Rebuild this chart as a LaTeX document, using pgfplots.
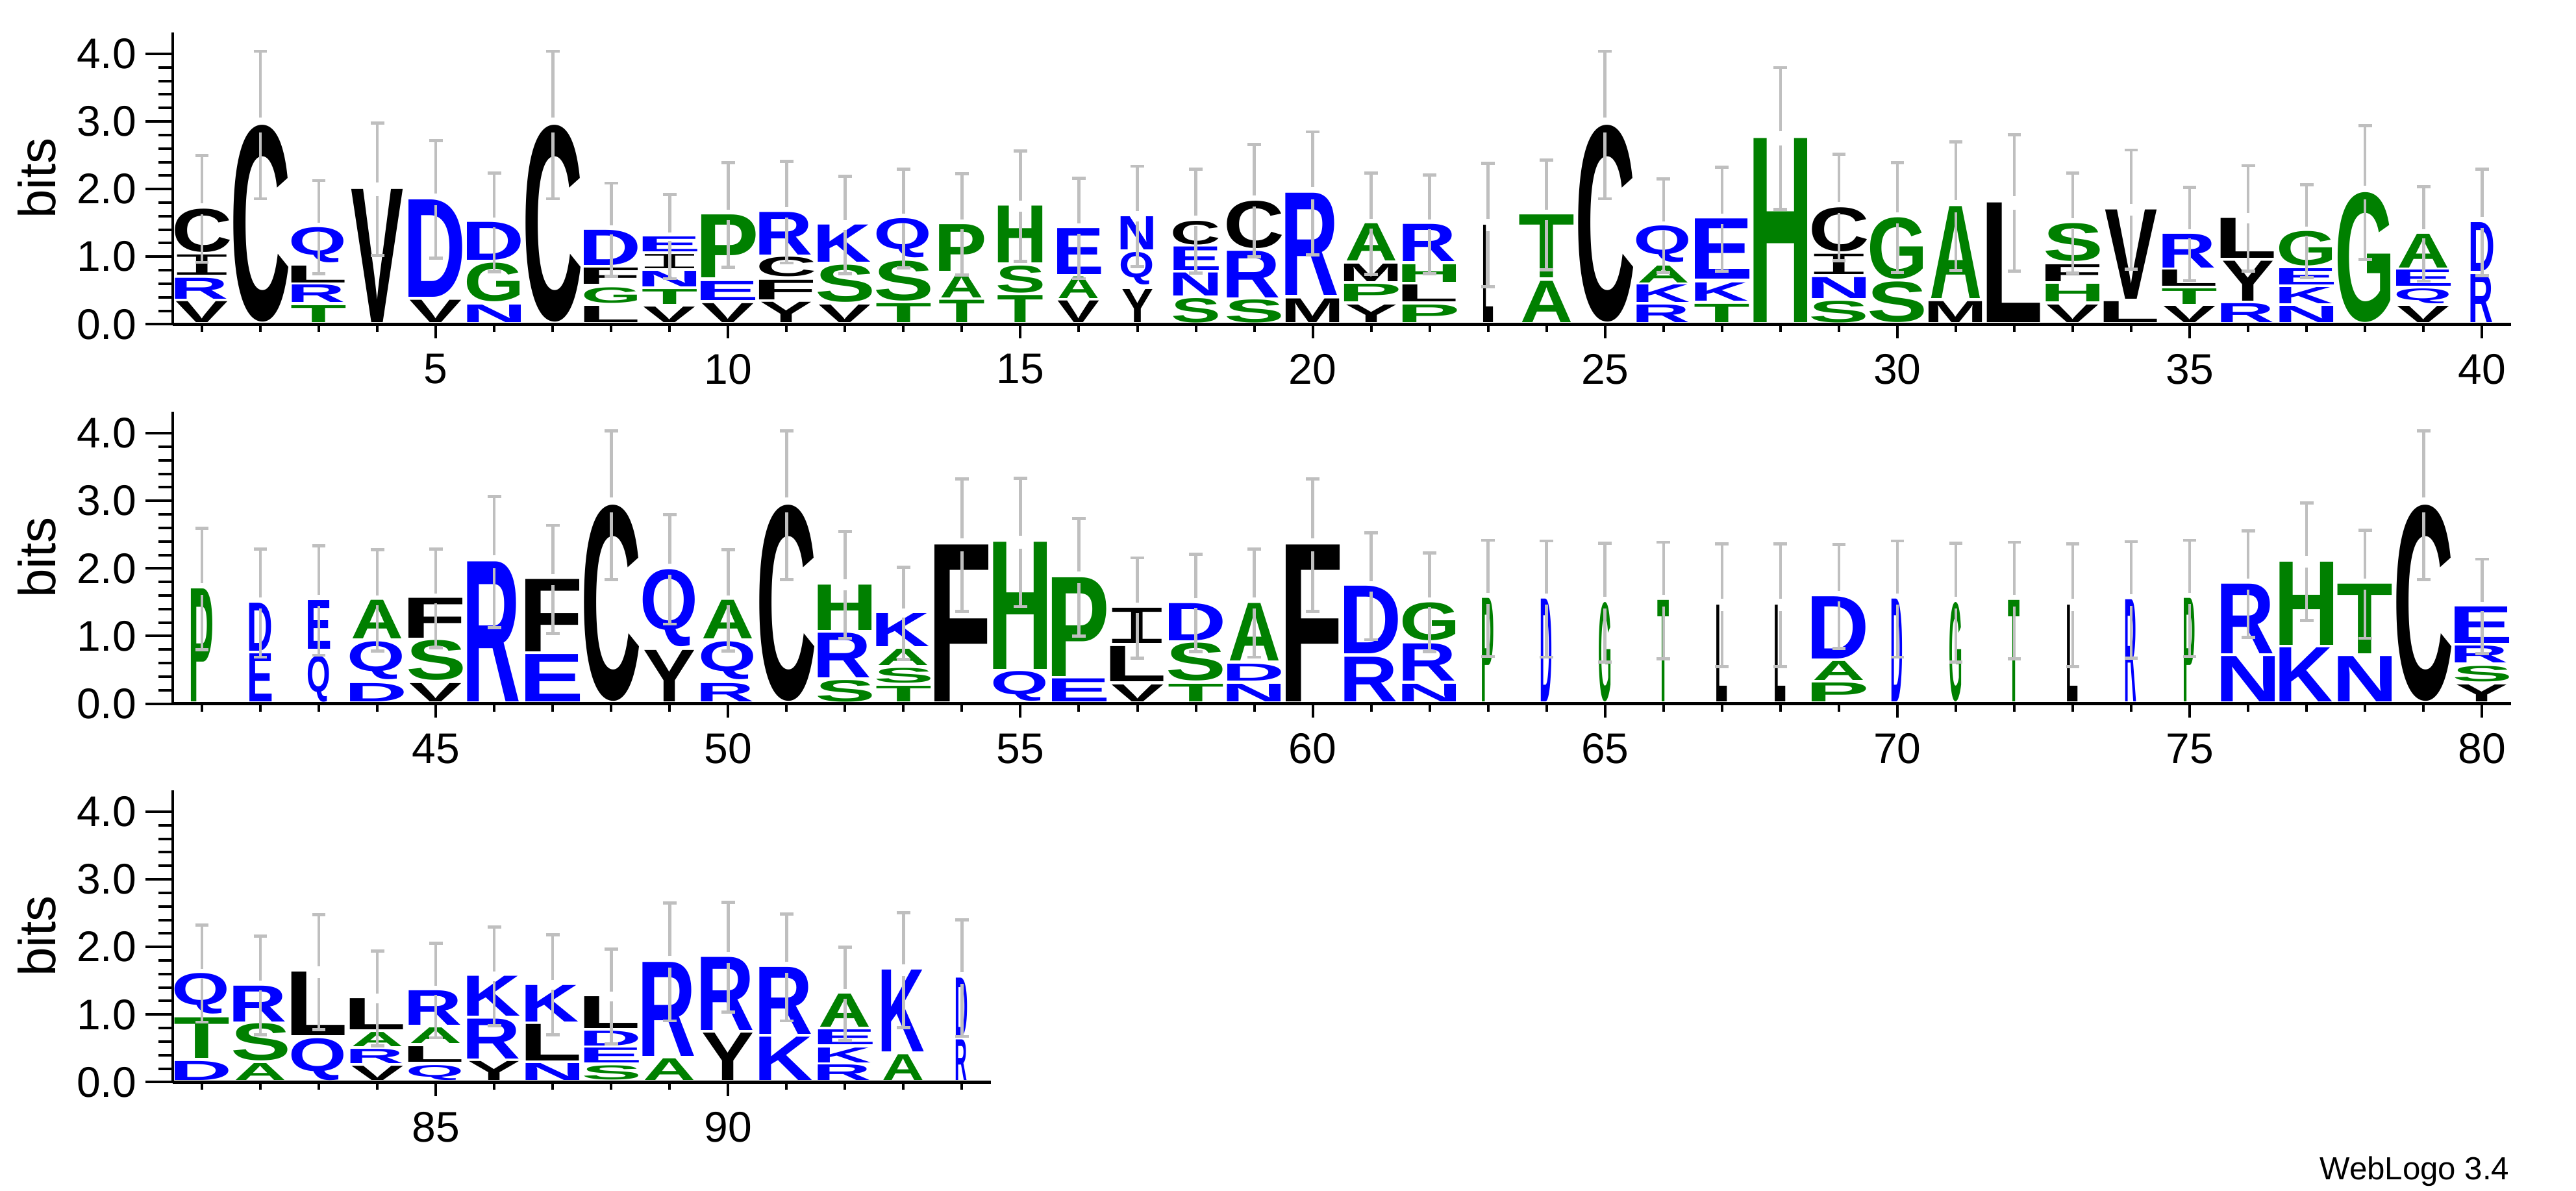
\documentclass[border=0pt]{standalone}
\usepackage{fontspec}
\setmainfont{Liberation Sans}
\newfontfamily\monof{Liberation Mono}
\usepackage{graphicx}
\usepackage{xcolor}
\usepackage{pgfplots}
\usepackage{pgfplotstable}
\pgfplotsset{compat=1.18}
\definecolor{lgreen}{HTML}{008000}
\definecolor{lblue}{HTML}{0000FF}
\definecolor{ebar}{HTML}{BFBFBF}
\newcommand\defL[4]{\expandafter\def\csname Ltr#1\endcsname{\hbox{\color{#2}\bfseries\kern-#3em\relax #1\kern-#4em\relax}}}
\defL{A}{lgreen}{0}{0}
\defL{C}{black}{.048}{.049}
\defL{D}{lblue}{.073}{.048}
\defL{E}{lblue}{.073}{.053}
\defL{F}{black}{.073}{.043}
\defL{G}{lgreen}{.049}{.055}
\defL{H}{lgreen}{.073}{.073}
\defL{K}{lblue}{.073}{.002}
\defL{L}{black}{.073}{.030}
\defL{M}{black}{.072}{.073}
\defL{N}{lblue}{.073}{.073}
\defL{P}{lgreen}{.073}{.046}
\defL{Q}{lblue}{.049}{.026}
\defL{R}{lblue}{.073}{.002}
\defL{S}{lgreen}{.039}{.047}
\defL{T}{lgreen}{.020}{.020}
\defL{V}{black}{0}{0}
\defL{Y}{black}{0}{0}
\expandafter\def\csname LtrI\endcsname{\hbox{\monof\color{black}\kern-.086em I\kern-.086em}}

\pgfplotstableread{
x y0 y1 w L
1 0 .31 81 V
1 .35 .66 81 R
1 .70 1.00 81 I
1 1.04 1.68 81 C
2 .01 2.92 81 C
3 0 .25 81 T
3 .30 .56 81 R
3 .59 .84 81 L
3 .89 1.41 81 Q
4 0 1.97 81 V
5 0 .33 81 V
5 .38 1.82 81 D
6 0 .26 81 N
6 .31 .88 81 G
6 .92 1.48 81 D
7 .01 2.92 81 C
8 0 .24 81 L
8 .29 .52 81 G
8 .57 .81 81 F
8 .85 1.37 81 D
9 0 .23 81 V
9 .27 .49 81 T
9 .53 .76 81 N
9 .80 1.01 81 I
9 1.05 1.27 81 E
10 0 .28 81 V
10 .33 .61 81 E
10 .66 1.59 81 P
11 0 .30 81 Y
11 .34 .63 81 F
11 .68 .97 81 C
11 1.00 1.63 81 R
12 0 .26 81 V
12 .30 .85 81 S
12 .89 1.44 81 K
13 0 .28 81 T
13 .32 .91 81 S
13 .96 1.54 81 Q
14 0 .33 67 T
14 .37 .72 67 A
14 .76 1.45 67 P
15 0 .40 67 T
15 .44 .84 67 S
15 .88 1.72 67 H
16 0 .32 65 V
16 .36 .68 65 A
16 .71 1.39 65 E
17 0 .49 49 Y
17 .56 1.04 49 Q
17 1.08 1.57 49 N
18 0 .36 67 S
18 .39 .73 67 N
18 .77 1.12 67 E
18 1.15 1.50 67 C
19 0 .34 81 S
19 .37 1.06 81 R
19 1.10 1.80 81 C
20 0 .35 81 M
20 .40 1.91 81 R
21 0 .26 81 Y
21 .31 .57 81 P
21 .61 .87 81 M
21 .91 1.46 81 A
22 0 .26 81 P
22 .31 .56 81 L
22 .60 .86 81 H
22 .90 1.45 81 R
23 0 1.44 15 L
24 0 .61 81 A
24 .66 1.59 81 T
25 .01 2.92 81 C
26 0 .26 81 R
26 .30 .56 81 K
26 .59 .84 81 A
26 .89 1.43 81 Q
27 0 .27 81 T
27 .32 .59 81 K
27 .64 1.53 81 E
28 0 2.72 81 H
29 0 .32 81 S
29 .36 .67 81 N
29 .71 1.01 81 I
29 1.05 1.70 81 C
30 0 .60 81 S
30 .64 1.55 81 G
31 0 .31 81 M
31 .36 1.72 81 A
32 0 1.77 81 L
33 0 .26 81 V
33 .31 .57 81 H
33 .61 .86 81 F
33 .91 1.47 81 S
34 0 .31 81 L
34 .35 1.67 81 V
35 0 .24 81 V
35 .27 .50 81 T
35 .54 .78 81 L
35 .81 1.31 81 R
36 0 .28 81 R
36 .32 .91 81 Y
36 .95 1.54 81 L
37 0 .24 81 N
37 .28 .52 81 K
37 .56 .80 81 E
37 .84 1.35 81 G
38 0 1.92 81 G
39 0 .24 81 V
39 .28 .50 81 Q
39 .54 .78 81 E
39 .81 1.31 81 A
40 0 .71 34 R
40 .76 1.48 34 D
}\rowA
\pgfplotstableread{
x c e
1 1.68 .79
2 2.92 1.09
3 1.41 .69
4 1.97 .98
5 1.82 .87
6 1.48 .73
7 2.92 1.09
8 1.37 .69
9 1.27 .62
10 1.59 .77
11 1.63 .75
12 1.44 .72
13 1.54 .73
14 1.45 .75
15 1.72 .82
16 1.39 .74
17 1.57 .74
18 1.50 .77
19 1.80 .83
20 1.91 .91
21 1.46 .75
22 1.45 .73
23 1.44 .91
24 1.59 .81
25 2.92 1.09
26 1.43 .69
27 1.53 .77
28 2.72 1.05
29 1.70 .79
30 1.55 .81
31 1.72 .95
32 1.77 1.01
33 1.47 .74
34 1.67 .88
35 1.31 .69
36 1.54 .78
37 1.35 .69
38 1.92 .99
39 1.31 .70
40 1.48 .79
}\errA
\pgfplotstableread{
x y0 y1 w L
41 0 1.67 32 P
42 0 .71 33 E
42 .75 1.46 33 D
43 0 .68 33 Q
43 .78 1.50 33 E
44 0 .27 81 D
44 .33 .89 81 Q
44 .93 1.50 81 A
45 0 .27 81 V
45 .32 .91 81 S
45 .94 1.53 81 F
46 0 2.07 81 R
47 0 .70 81 E
47 .74 1.81 81 F
48 .01 2.91 81 C
49 0 .76 81 Y
49 .82 1.96 81 Q
50 0 .27 81 R
50 .33 .89 81 Q
50 .93 1.50 81 A
51 .01 2.91 81 C
52 0 .32 81 S
52 .36 1.02 81 R
52 1.06 1.73 81 H
53 0 .23 81 T
53 .28 .50 81 S
53 .54 .78 81 A
53 .82 1.31 81 K
54 0 2.32 81 F
55 .01 .45 81 Q
55 .48 2.36 81 H
56 0 .34 81 E
56 .38 1.84 81 P
57 0 .25 81 V
57 .30 .82 81 L
57 .87 1.39 81 I
58 0 .26 81 T
58 .31 .87 81 S
58 .91 1.46 81 D
59 0 .26 81 N
59 .31 .56 81 D
59 .61 1.46 81 A
60 0 2.32 81 F
61 0 .66 81 R
61 .71 1.71 81 D
62 0 .26 81 N
62 .31 .86 81 R
62 .91 1.47 81 G
63 0 1.53 17 P
64 0 1.52 16 D
65 0 1.47 18 G
66 0 1.50 17 T
67 0 1.43 16 L
68 0 1.43 16 L
69 0 .28 81 P
69 .32 .60 81 A
69 .64 1.56 81 D
70 0 1.52 16 D
71 0 1.47 18 G
72 0 1.50 17 T
73 0 1.43 16 L
74 0 1.51 17 R
75 0 1.53 16 P
76 0 .67 81 N
76 .71 1.74 81 R
77 0 .80 81 K
77 .84 2.07 81 H
78 0 .67 81 N
78 .71 1.74 81 T
79 .01 2.91 81 C
80 0 .25 81 Y
80 .30 .53 81 S
80 .58 .83 81 R
80 .87 1.41 81 E
}\rowB
\pgfplotstableread{
x c e
41 1.67 .90
42 1.46 .80
43 1.50 .81
44 1.50 .75
45 1.53 .73
46 2.07 .97
47 1.81 .80
48 2.91 1.10
49 1.96 .81
50 1.50 .75
51 2.91 1.10
52 1.73 .79
53 1.31 .68
54 2.32 .98
55 2.36 .95
56 1.84 .87
57 1.39 .74
58 1.46 .72
59 1.46 .80
60 2.32 .98
61 1.71 .79
62 1.47 .73
63 1.53 .86
64 1.52 .86
65 1.47 .88
66 1.50 .86
67 1.43 .91
68 1.43 .91
69 1.56 .77
70 1.52 .86
71 1.47 .88
72 1.50 .86
73 1.43 .91
74 1.51 .86
75 1.53 .86
76 1.74 .79
77 2.07 .87
78 1.74 .80
79 2.91 1.10
80 1.41 .70
}\errB
\pgfplotstableread{
x y0 y1 w L
81 0 .28 81 D
81 .33 .93 81 T
81 .98 1.58 81 Q
82 0 .25 81 A
82 .29 .84 81 S
82 .87 1.40 81 R
83 0 .62 81 Q
83 .66 1.60 81 L
84 0 .21 81 V
84 .25 .46 81 R
84 .50 .71 81 A
84 .75 1.21 81 L
85 0 .22 81 Q
85 .27 .50 81 L
85 .55 .78 81 A
85 .82 1.33 81 R
86 0 .28 81 Y
86 .32 .91 81 R
86 .95 1.54 81 K
87 0 .25 81 N
87 .29 .83 81 L
87 .87 1.41 81 K
88 .01 .22 81 S
88 .26 .48 81 E
88 .51 .73 81 D
88 .77 1.24 81 L
89 0 .32 81 A
89 .36 1.75 81 R
90 0 .70 81 Y
90 .74 1.82 81 R
91 0 .64 81 K
91 .68 1.67 81 R
92 0 .23 81 R
92 .26 .48 81 K
92 .53 .75 81 E
92 .79 1.28 81 A
93 0 .38 65 A
93 .42 1.63 65 K
94 0 .60 17 R
94 .64 1.51 17 D
}\rowC
\pgfplotstableread{
x c e
81 1.58 .72
82 1.40 .73
83 1.60 .85
84 1.21 .70
85 1.33 .70
86 1.54 .73
87 1.41 .74
88 1.24 .70
89 1.75 .87
90 1.82 .81
91 1.67 .79
92 1.28 .69
93 1.63 .85
94 1.51 .86
}\errC

\pgfplotsset{
 frame/.style={
  scale only axis, height=112.45pt, ymin=0, ymax=4.32, clip=false, anchor=south west,
 },
 logo/.style={
  frame,
  axis lines=left, axis line style={-, line width=1.15pt, black},
  tick align=outside, xtick pos=bottom, ytick pos=left,
  tick style={line width=1pt, black},
  major tick length=10.5pt, minor tick length=5.5pt,
  xtick style={/pgfplots/major tick length=5.3pt, /pgfplots/minor tick length=3pt},
  ytick={0,1,2,3,4}, minor y tick num=4,
  /pgf/number format/assume math mode=true,
  yticklabel style={/pgf/number format/fixed, /pgf/number format/fixed zerofill, /pgf/number format/precision=1},
  xticklabel style={/pgf/number format/1000 sep={}, yshift=2.5pt},
  tick label style={font=\fontsize{16.5}{18}\selectfont},
  ylabel={bits}, ylabel shift=1.2pt, ylabel style={font=\fontsize{20}{22}\selectfont},
 },
 letters/.style={
  only marks, mark=none, point meta=explicit symbolic,
  visualization depends on={0.25*\thisrow{w}\as\wpt},
  visualization depends on={26.03*(\thisrow{y1}-\thisrow{y0})\as\hpt},
  nodes near coords={\resizebox*{\wpt pt}{\hpt pt}{\fontsize{10}{12}\selectfont\csname Ltr\pgfplotspointmeta\endcsname}},
  every node near coord/.append style={anchor=south, inner sep=0pt, outer sep=0pt},
 },
 ebars/.style={
  draw=none, no markers, mark=none, mark size=0pt,
  mark options={draw=none, fill=none},
  error bars/.cd, y explicit,
  y dir=#1,
  error bar style={color=ebar, line width=1.15pt},
  error mark options={color=ebar, mark size=2.6pt, line width=1.2pt, rotate=90},
 },
}
\newcommand\lettersrow[1]{%
  \addplot[letters] table[x=x, y expr=\thisrow{y0}+0.027, meta=L] {#1};
}
\newcommand\barsrow[1]{%
  \addplot[ebars=plus] table[x=x, y expr=\thisrow{c}+0.027+0.1*\thisrow{e}, y error plus expr=0.9*\thisrow{e}] {#1};
  \addplot[ebars=minus] table[x=x, y expr=\thisrow{c}+0.027-0.1*\thisrow{e}, y error minus expr=0.9*\thisrow{e}] {#1};
}
\begin{document}
\begin{tikzpicture}[x=1pt,y=1pt]
\useasboundingbox (0,0) rectangle (991.75,458.25);
\begin{axis}[logo, at={(66.5pt,333.4pt)}, width=900.3pt, xmin=0.5, xmax=40.5, xtick={5,10,...,40}, minor xtick={1,...,40}]
\lettersrow{\rowA}
\end{axis}
\begin{axis}[frame, hide axis, at={(66.5pt,333.4pt)}, width=900.3pt, xmin=0.5, xmax=40.5]
\barsrow{\errA}
\end{axis}
\begin{axis}[logo, at={(66.5pt,187.35pt)}, width=900.3pt, xmin=40.5, xmax=80.5, xtick={45,50,...,80}, minor xtick={41,...,80}]
\lettersrow{\rowB}
\end{axis}
\begin{axis}[frame, hide axis, at={(66.5pt,187.35pt)}, width=900.3pt, xmin=40.5, xmax=80.5]
\barsrow{\errB}
\end{axis}
\begin{axis}[logo, at={(66.5pt,41.65pt)}, width=315.1pt, xmin=80.5, xmax=94.5, xtick={85,90}, minor xtick={81,...,94}]
\lettersrow{\rowC}
\end{axis}
\begin{axis}[frame, hide axis, at={(66.5pt,41.65pt)}, width=315.1pt, xmin=80.5, xmax=94.5]
\barsrow{\errC}
\end{axis}
\node[anchor=base east, inner sep=0pt, font=\fontsize{12.3}{14}\selectfont] at (966.25,4.25) {WebLogo 3.4};
\end{tikzpicture}
\end{document}
